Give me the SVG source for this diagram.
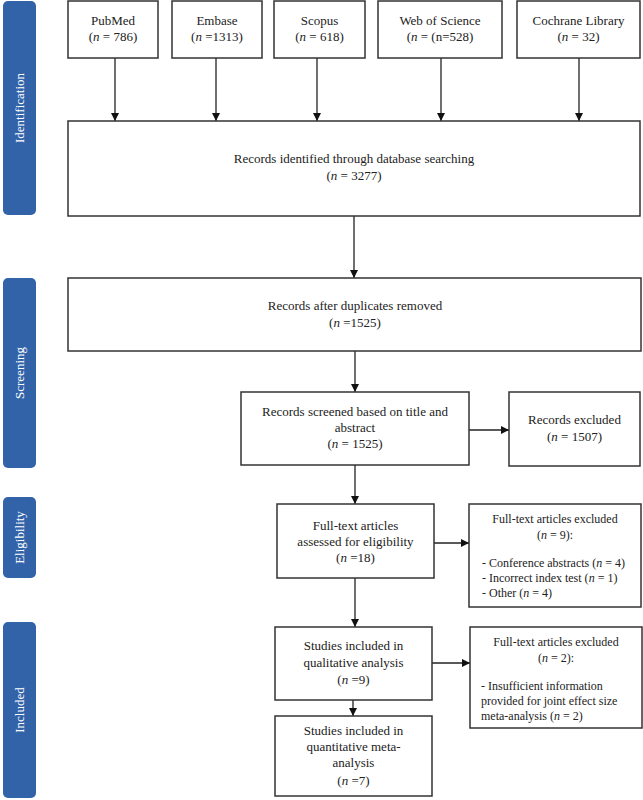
<svg xmlns="http://www.w3.org/2000/svg" width="643" height="800" viewBox="0 0 643 800">
<style>
.box{fill:#fff;stroke:#333;stroke-width:1.5}
.bar{fill:#3263A9}
.t{font-family:"Liberation Serif","Times New Roman",serif;font-size:13px;fill:#222;text-anchor:middle}
.s{font-family:"Liberation Serif","Times New Roman",serif;font-size:12px;fill:#222}
.c{text-anchor:middle}
.lab{font-family:"Liberation Serif","Times New Roman",serif;font-size:13px;fill:#fff;text-anchor:middle}
.con{stroke:#222;stroke-width:1.3;fill:none;marker-end:url(#ah)}
.i{font-style:italic}
</style>
<defs>
<marker id="ah" markerWidth="8" markerHeight="8" refX="8" refY="4" orient="auto" markerUnits="userSpaceOnUse">
<path d="M0,0 L8,4 L0,8 z" fill="#111"/>
</marker>
</defs>
<rect width="643" height="800" fill="#fff"/>
<g id="phases">
<g id="phase-identification"><rect class="bar" x="3" y="1" width="33" height="214" rx="5"/><text class="lab" transform="translate(24,108) rotate(-90)">Identification</text></g>
<g id="phase-screening"><rect class="bar" x="3" y="278" width="33" height="190" rx="5"/><text class="lab" transform="translate(24,373) rotate(-90)">Screening</text></g>
<g id="phase-eligibility"><rect class="bar" x="3" y="497" width="33" height="81" rx="5"/><text class="lab" transform="translate(24,537.5) rotate(-90)">Eligibility</text></g>
<g id="phase-included"><rect class="bar" x="3" y="622" width="33" height="176" rx="5"/><text class="lab" transform="translate(24,710) rotate(-90)">Included</text></g>
</g>
<g id="connectors">
<line class="con" x1="115" y1="58" x2="115" y2="121"/>
<line class="con" x1="216" y1="58" x2="216" y2="121"/>
<line class="con" x1="317" y1="58" x2="317" y2="121"/>
<line class="con" x1="441" y1="58" x2="441" y2="121"/>
<line class="con" x1="579" y1="58" x2="579" y2="121"/>
<line class="con" x1="354" y1="216" x2="354" y2="278"/>
<line class="con" x1="355" y1="351" x2="355" y2="392"/>
<line class="con" x1="469" y1="430" x2="509" y2="430"/>
<line class="con" x1="355" y1="465" x2="355" y2="504"/>
<line class="con" x1="434" y1="543" x2="469" y2="543"/>
<line class="con" x1="355" y1="578" x2="355" y2="627"/>
<line class="con" x1="432" y1="663" x2="470" y2="663"/>
<line class="con" x1="353" y1="700" x2="353" y2="716"/>
</g>
<g id="pubmed"><rect class="box" x="68" y="1" width="90" height="57"/><text class="t" x="113" y="25">PubMed</text><text class="t" x="113" y="41">(<tspan class="i">n</tspan> = 786)</text></g>
<g id="embase"><rect class="box" x="172" y="1" width="90" height="57"/><text class="t" x="217" y="25">Embase</text><text class="t" x="217" y="41">(<tspan class="i">n</tspan> =1313)</text></g>
<g id="scopus"><rect class="box" x="274" y="1" width="91" height="57"/><text class="t" x="319.5" y="25">Scopus</text><text class="t" x="319.5" y="41">(<tspan class="i">n</tspan> = 618)</text></g>
<g id="wos"><rect class="box" x="378" y="1" width="124" height="57"/><text class="t" x="440" y="25">Web of Science</text><text class="t" x="440" y="41">(<tspan class="i">n</tspan> = (n=528)</text></g>
<g id="cochrane"><rect class="box" x="517" y="1" width="123" height="57"/><text class="t" x="578.5" y="25">Cochrane Library</text><text class="t" x="578.5" y="41">(<tspan class="i">n</tspan> = 32)</text></g>
<g id="identified"><rect class="box" x="68" y="121" width="572" height="95"/><text class="t" x="354" y="163">Records identified through database searching</text><text class="t" x="354" y="180">(<tspan class="i">n</tspan> = 3277)</text></g>
<g id="dedup"><rect class="box" x="68" y="278" width="573" height="73"/><text class="t" x="355" y="310">Records after duplicates removed</text><text class="t" x="355" y="327">(<tspan class="i">n</tspan> =1525)</text></g>
<g id="screened"><rect class="box" x="241" y="392" width="228" height="73"/><text class="t" x="355" y="416">Records screened based on title and</text><text class="t" x="355" y="432">abstract</text><text class="t" x="355" y="448">(<tspan class="i">n</tspan> = 1525)</text></g>
<g id="excluded1"><rect class="box" x="509" y="392" width="131" height="74"/><text class="t" x="574.5" y="424">Records excluded</text><text class="t" x="574.5" y="441">(<tspan class="i">n</tspan> = 1507)</text></g>
<g id="fulltext"><rect class="box" x="277" y="504" width="157" height="74"/><text class="t" x="355.5" y="530">Full-text articles</text><text class="t" x="355.5" y="546">assessed for eligibility</text><text class="t" x="355.5" y="562">(<tspan class="i">n</tspan> =18)</text></g>
<g id="excluded2"><rect class="box" x="469" y="504" width="172" height="103"/><text class="s c" x="555" y="523">Full-text articles excluded</text><text class="s c" x="555" y="539">(<tspan class="i">n</tspan> = 9):</text><text class="s" x="482" y="567">- Conference abstracts (<tspan class="i">n</tspan> = 4)</text><text class="s" x="482" y="582">- Incorrect index test (<tspan class="i">n</tspan> = 1)</text><text class="s" x="482" y="597">- Other (<tspan class="i">n</tspan> = 4)</text></g>
<g id="qualitative"><rect class="box" x="275" y="627" width="157" height="73"/><text class="t" x="353.5" y="650">Studies included in</text><text class="t" x="353.5" y="667">qualitative analysis</text><text class="t" x="353.5" y="684">(<tspan class="i">n</tspan> =9)</text></g>
<g id="excluded3"><rect class="box" x="470" y="627" width="172" height="101"/><text class="s c" x="556" y="646">Full-text articles excluded</text><text class="s c" x="556" y="662">(<tspan class="i">n</tspan> = 2):</text><text class="s" x="481" y="690">- Insufficient information</text><text class="s" x="481" y="705">provided for joint effect size</text><text class="s" x="481" y="720">meta-analysis (<tspan class="i">n</tspan> = 2)</text></g>
<g id="quantitative"><rect class="box" x="275" y="716" width="157" height="80"/><text class="t" x="353.5" y="735">Studies included in</text><text class="t" x="353.5" y="751">quantitative meta-</text><text class="t" x="353.5" y="767">analysis</text><text class="t" x="353.5" y="785">(<tspan class="i">n</tspan> =7)</text></g>
</svg>
